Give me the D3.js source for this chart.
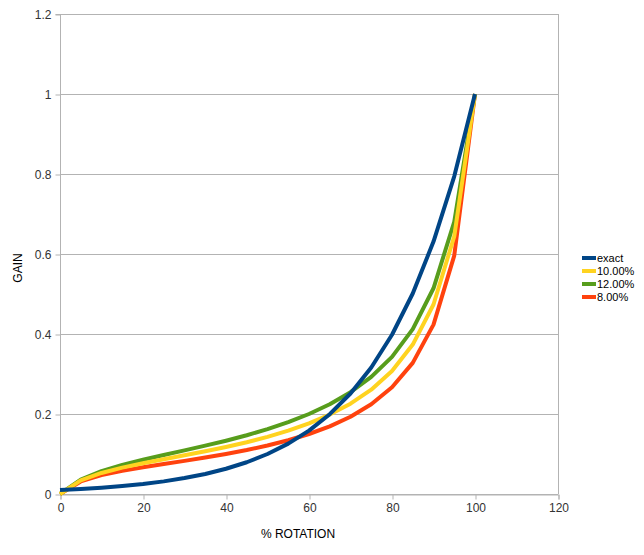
<!DOCTYPE html>
<html><head><meta charset="utf-8">
<script src="https://cdn.jsdelivr.net/npm/d3@7"></script>
<style>body{margin:0;background:#fff}svg{display:block}text{font-family:"Liberation Sans",Arial,sans-serif}</style>
</head><body><svg id="c" width="644" height="555"></svg>
<script>
const rotation = [0,5,10,15,20,25,30,35,40,45,50,55,60,65,70,75,80,85,90,95,100];
const exact  = [0.01,0.0126,0.0158,0.02,0.0251,0.0316,0.0398,0.0501,0.0631,0.0794,0.1,0.1259,0.1585,0.1995,0.2512,0.3162,0.3981,0.5012,0.631,0.7943,1];
const p10    = [0,0.0339,0.0526,0.0659,0.0769,0.087,0.0968,0.1069,0.1176,0.1295,0.1429,0.1583,0.1765,0.1985,0.2258,0.2609,0.3077,0.3736,0.4737,0.6441,1];
const p12    = [0,0.0358,0.0571,0.0727,0.0857,0.0976,0.1091,0.1209,0.1333,0.1469,0.1622,0.1796,0.2,0.2245,0.2545,0.2927,0.3429,0.4121,0.5143,0.6806,1];
const p8     = [0,0.0314,0.0471,0.0578,0.0667,0.0748,0.0828,0.0911,0.1,0.1099,0.1212,0.1344,0.15,0.1691,0.1931,0.2243,0.2667,0.3277,0.4235,0.5961,1];
const seriesNames = ["exact","10.00%","12.00%","8.00%"];
const seriesColors = ["#004586","#ffd320","#579d1c","#ff420e"];
const xTicks = [0,20,40,60,80,100,120];
const yTicks = [0,0.2,0.4,0.6,0.8,1,1.2];

const svg = d3.select("#c");
const L=60, R=558, T=14, B=494;
const x = d3.scaleLinear().domain([0,120]).range([L,R]);
const y = d3.scaleLinear().domain([0,1.2]).range([B,T]);
const grid = "#b3b3b3";

// gridlines
svg.append("g").selectAll("line").data(yTicks).join("line")
  .attr("x1",L).attr("x2",R).attr("y1",d=>y(d)+0.5).attr("y2",d=>y(d)+0.5)
  .attr("stroke",grid).attr("stroke-width",1);
// right border
svg.append("line").attr("x1",R+0.5).attr("x2",R+0.5).attr("y1",T).attr("y2",B).attr("stroke",grid);

// axes
const yAxis = d3.axisLeft(y).tickValues(yTicks).tickSize(5).tickPadding(4).tickFormat(d=>d3.format("")(+d.toFixed(1)));
const gy = svg.append("g").attr("transform",`translate(${L+0.5},0.5)`).call(yAxis);
const xAxis = d3.axisBottom(x).tickValues(xTicks).tickSize(5).tickPadding(4);
const gx = svg.append("g").attr("transform",`translate(0.5,${B+0.5})`).call(xAxis);
[gx,gy].forEach(g=>{
  g.select(".domain").attr("stroke",grid);
  g.selectAll(".tick line").attr("stroke",grid);
  g.selectAll(".tick text").attr("fill","#333").style("font-size","12px").style("font-family","'Liberation Sans',Arial,sans-serif");
});
gy.select(".domain").attr("d",`M-5,${T}H0V${B}`);

// lines (drawn last-to-first so "exact" sits on top)
const all = [exact,p10,p12,p8];
const line = d3.line().x((d,i)=>x(rotation[i])).y(d=>y(d));
const order = [3,2,1,0];
svg.append("g").selectAll("path").data(order).join("path")
  .attr("d",k=>line(all[k])).attr("fill","none")
  .attr("stroke",k=>seriesColors[k]).attr("stroke-width",4)
  .attr("stroke-linejoin","round");

// axis titles
svg.append("text").attr("x",298).attr("y",538).attr("text-anchor","middle")
  .style("font-size","12px").attr("fill","#000").text("% ROTATION");
svg.append("text").attr("transform","translate(22,268) rotate(-90)").attr("text-anchor","middle")
  .style("font-size","12px").attr("fill","#000").text("GAIN");

// legend
const lg = svg.append("g");
seriesNames.forEach((n,i)=>{
  const yy = 258 + i*13;
  lg.append("rect").attr("x",582).attr("y",yy-2).attr("width",14).attr("height",4).attr("fill",seriesColors[i]);
  lg.append("text").attr("x",597).attr("y",yy+4).style("font-size","11px").attr("fill","#000").text(n);
});
</script></body></html>
